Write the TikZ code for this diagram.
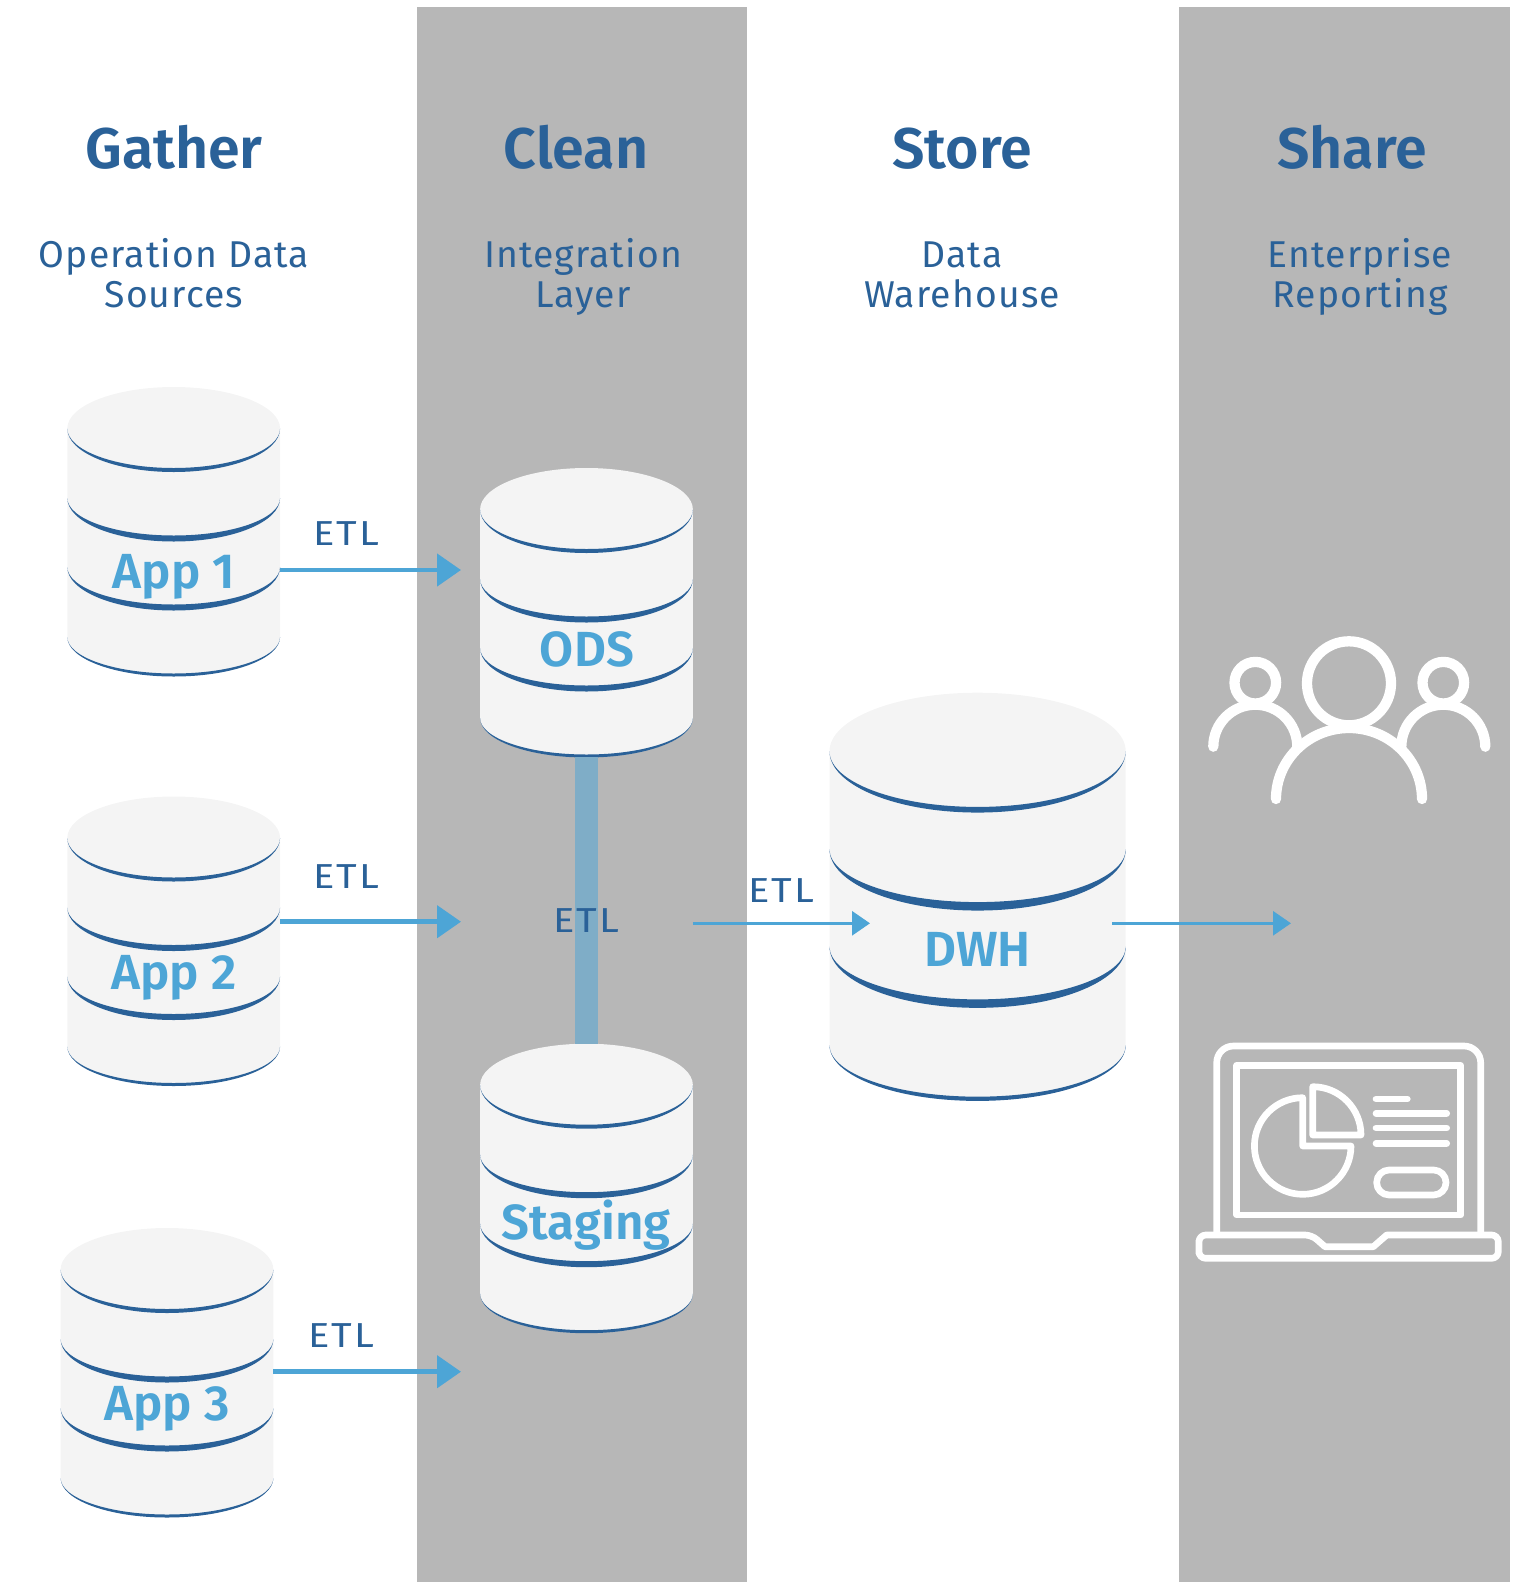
\documentclass[tikz,border=0pt]{standalone}
\usepackage{fontspec}
\setmainfont{Fira Sans}
\newfontfamily\headfont[BoldFont=* SemiBold]{Fira Sans}
\newfontfamily\subfont[LetterSpace=3]{Fira Sans}
\newfontfamily\etlfont[FakeStretch=1.15,LetterSpace=6]{Fira Sans}
\usetikzlibrary{arrows.meta}
\definecolor{panelgrey}{HTML}{B7B7B7}
\definecolor{dbfill}{HTML}{F4F4F4}
\definecolor{inkblue}{HTML}{2A6198}
\definecolor{flowblue}{HTML}{4DA5D6}
\definecolor{barblue}{HTML}{7FADC7}
\tikzset{
	panel/.style={fill=panelgrey},
	headtext/.style={anchor=base,inner sep=0.75pt,text=inkblue,font=\headfont\bfseries\fontsize{43}{46}\selectfont},
	subtext/.style={anchor=base,inner sep=0.75pt,text=inkblue,align=center,font=\subfont\fontsize{28}{30}\selectfont},
	dbtext/.style={anchor=base,inner sep=0.75pt,text=flowblue,font=\headfont\bfseries\fontsize{37}{40}\selectfont},
	etltext/.style={anchor=base,inner sep=0.75pt,text=inkblue,font=\etlfont\fontsize{26}{28}\selectfont},
	dbbox/.style={inner sep=0pt,outer sep=0pt,minimum width=159.6pt,minimum height=216pt},
	etlflow/.style={draw=flowblue,line width=3.5pt,-{Triangle[length=18pt,width=24pt]}},
	etlflowthin/.style={draw=flowblue,line width=2.2pt,-{Triangle[length=13.5pt,width=18pt]}},
	iconline/.style={draw=white,line width=7.7pt,line cap=round},
	screenline/.style={draw=white,line width=5pt,line cap=round,line join=round},
	pics/dbstack/.style={code={
		\begin{scope}[yscale=-1]
		\fill [dbfill] (-106.4,41.5) arc [start angle=180,end angle=0,x radius=106.4,y radius=-41.5] -- (106.4,250) arc [start angle=0,end angle=180,x radius=106.4,y radius=39] -- cycle;
		\fill [inkblue] (-106.4,41.5) arc [start angle=180,end angle=0,x radius=106.4,y radius=43.5] arc [start angle=0,end angle=180,x radius=106.4,y radius=39.5] -- cycle;
		\fill [inkblue] (-106.4,111) arc [start angle=180,end angle=0,x radius=106.4,y radius=43.5] arc [start angle=0,end angle=180,x radius=106.4,y radius=37.5] -- cycle;
		\fill [inkblue] (-106.4,180) arc [start angle=180,end angle=0,x radius=106.4,y radius=43.5] arc [start angle=0,end angle=180,x radius=106.4,y radius=37.5] -- cycle;
		\fill [inkblue] (-106.4,250) arc [start angle=180,end angle=0,x radius=106.4,y radius=39.5] arc [start angle=0,end angle=180,x radius=106.4,y radius=36.5] -- cycle;
		\end{scope}
	}},
}
\begin{document}
\begin{tikzpicture}[x=0.75pt,y=0.75pt,yscale=-1,xscale=1]
	\useasboundingbox (0,0) rectangle (1514,1582);

	%Shape: Panels
	\fill [panel] (417,7) rectangle (747,1582);
	\fill [panel] (1179,7) rectangle (1510,1582);

	% Text Node
	\node [headtext] (gatherhead) at (174,168) {Gather};
	\node [headtext] (cleanhead) at (576,168) {Clean};
	\node [headtext] (storehead) at (962,168) {Store};
	\node [headtext] (sharehead) at (1352,168) {Share};
	\node [subtext] (gathersub) at (174,307) {Operation Data\\Sources};
	\node [subtext] (cleansub) at (583,307) {Integration\\Layer};
	\node [subtext] (storesub) at (962,307) {Data\\Warehouse};
	\node [subtext] (sharesub) at (1360,307) {Enterprise\\Reporting};

	%Shape: Cylinders
	\pic at (173.7,387) {dbstack};
	\pic at (173.7,796.5) {dbstack};
	\pic at (167,1228) {dbstack};
	\pic at (586.5,468) {dbstack};
	\pic at (586.5,1043.7) {dbstack};
	\pic [xscale=1.392,yscale=1.41] at (977.6,692.7) {dbstack};

	\node [dbbox] (app1) at (173.7,531) {};
	\node [dbbox] (app2) at (173.7,940.5) {};
	\node [dbbox] (app3) at (167,1372) {};
	\node [dbbox] (ods) at (586.5,613) {};
	\node [dbbox] (staging) at (586.5,1187.7) {};
	\node [dbbox,minimum width=201.6pt,minimum height=300pt] (dwh) at (977.6,893) {};

	% Text Node
	\node [dbtext] (app1label) at (174,588) {App 1};
	\node [dbtext] (app2label) at (174,989) {App 2};
	\node [dbtext] (app3label) at (167,1420) {App 3};
	\node [dbtext] (odslabel) at (587,666) {ODS};
	\node [dbtext] (staginglabel) at (586,1239) {Staging};
	\node [dbtext] (dwhlabel) at (977.6,966) {DWH};

	%Straight Lines
	\coordinate (app1tip) at (461,570);
	\coordinate (app2tip) at (461,921.7);
	\coordinate (app3tip) at (461,1371.7);
	\coordinate (storetip) at (870,923.3);
	\coordinate (sharetip) at (1291,923.3);
	\draw [etlflow] (app1.east |- app1tip) -- (app1tip);
	\draw [etlflow] (app2.east |- app2tip) -- (app2tip);
	\draw [etlflow] (app3.east |- app3tip) -- (app3tip);
	\draw [etlflowthin] (ods.east |- storetip) -- (storetip);
	\draw [etlflowthin] (dwh.east |- sharetip) -- (sharetip);
	\draw [barblue,line width=17pt] (ods.south) -- (staging.north);

	% Text Node
	\node [etltext] (etl1) at (346,545.7) {ETL};
	\node [etltext] (etl2) at (346,888.5) {ETL};
	\node [etltext] (etl3) at (341,1347) {ETL};
	\node [etltext] (etl4) at (586.5,932.5) {ETL};
	\node [etltext] (etl5) at (781,902.5) {ETL};

	%Shape: People
	\draw [iconline] (1349,683.3) circle [radius=42];
	\draw [iconline] (1255.3,682.7) circle [radius=20.8];
	\draw [iconline] (1443.3,682.7) circle [radius=20.8];
	\draw [iconline] (1213.3,746.7) arc [start angle=180,end angle=360,radius=42];
	\draw [iconline] (1401.3,746.7) arc [start angle=180,end angle=360,radius=42];
	\draw [iconline] (1276,799) arc [start angle=180,end angle=360,x radius=73,y radius=71];

	%Shape: Laptop
	\draw [screenline,rounded corners=12.5pt] (1216.7,1233) -- (1216.7,1046) -- (1480.7,1046) -- (1480.7,1233);
	\draw [screenline] (1236.7,1065.3) rectangle (1460.7,1215);
	\draw [screenline] (1199,1247) [rounded corners=5pt] -- (1199,1235) -- (1311.7,1235) [sharp corners] -- (1325,1246.7) -- (1373.3,1246.7) -- (1386.7,1235) [rounded corners=5pt] -- (1498.3,1235) -- (1498.3,1258.3) -- (1199,1258.3) -- cycle;
	\draw [screenline] (1351,1146) arc [start angle=0,end angle=270,radius=48.3] -- (1302.7,1146) -- cycle;
	\draw [screenline] (1312.7,1086.7) arc [start angle=270,end angle=360,radius=48.3] -- (1312.7,1135) -- cycle;
	\draw [screenline] (1376,1099) -- (1407.3,1099);
	\draw [screenline] (1376,1113.3) -- (1446.7,1113.3);
	\draw [screenline] (1376,1128) -- (1446.7,1128);
	\draw [screenline] (1376,1143.3) -- (1446.7,1143.3);
	\draw [screenline,rounded corners=9.3pt] (1376.7,1170) rectangle (1446,1195);
\end{tikzpicture}
\end{document}
